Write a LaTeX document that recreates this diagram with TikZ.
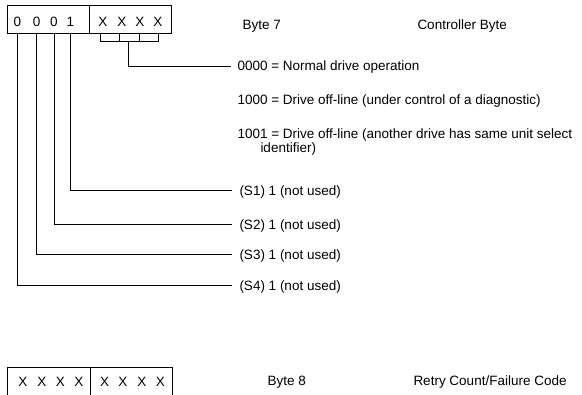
\documentclass[tikz,border=0pt]{standalone}
\usepackage{fontspec}
\setmainfont{Liberation Sans}
\begin{document}
\begin{tikzpicture}[x=1pt,y=-1pt, line width=1pt,
  lbl/.style={anchor=base west, inner sep=0pt, font=\fontsize{13.5}{16}\selectfont},
  dig/.style={anchor=base, inner sep=0pt, font=\fontsize{13.5}{16}\selectfont},
  cell/.style={draw, inner sep=0pt, minimum height=28pt}]
\useasboundingbox (0,0) rectangle (582,395);
% Byte 7 boxes
\node[cell, minimum width=81.5pt] (b7l) at (48.25,20) {};
\node[cell, minimum width=82pt] (b7r) at (130,20) {};
\node[dig] (d1) at (17.3,26.7) {0};
\node[dig] (d2) at (36.7,26.7) {0};
\node[dig] (d3) at (54,26.7) {0};
\node[dig] (d4) at (70.3,26.7) {1};
\node[dig] (x1) at (103,26.7) {X};
\node[dig] (x2) at (122,26.7) {X};
\node[dig] (x3) at (140,26.7) {X};
\node[dig] (x4) at (158,26.7) {X};
\node[lbl] (byte7) at (242,29.5) {Byte 7};
\node[lbl] (ctrl) at (417,29.5) {Controller Byte};
% bracket
\coordinate (k1) at (100,34);
\coordinate (k2) at (119,34);
\coordinate (k3) at (139,34);
\coordinate (k4) at (158,34);
\draw (k1) -- ++(0,7.7) -| (k4);
\draw (k2) -- ++(0,7.7);
\draw (k3) -- ++(0,7.7);
\coordinate (kb) at (128,41.7);
% labels
\coordinate (e0) at (231,66.3);
\node[lbl] (t0) at (237,71) {0000 = Normal drive operation};
\node[lbl] (t1) at (237,104.5) {1000 = Drive off-line (under control of a diagnostic)};
\node[lbl] (t2) at (237,138.5) {1001 = Drive off-line (another drive has same unit select};
\node[lbl] (t2b) at (260,153) {identifier)};
\coordinate (e1) at (232,190.7);
\coordinate (e2) at (232,224.7);
\coordinate (e3) at (232,254.7);
\coordinate (e4) at (232,285.7);
\node[lbl] (s1) at (239,195.5) {(S1) 1 (not used)};
\node[lbl] (s2) at (239,229.5) {(S2) 1 (not used)};
\node[lbl] (s3) at (239,259.5) {(S3) 1 (not used)};
\node[lbl] (s4) at (239,290.5) {(S4) 1 (not used)};
% connectors
\draw (kb) |- (e0);
\draw (d4 |- b7l.south) |- (e1);
\draw (d3 |- b7l.south) |- (e2);
\draw (d2 |- b7l.south) |- (e3);
\draw (d1 |- b7l.south) |- (e4);
% Byte 8
\node[cell, minimum width=83.4pt] (b8l) at (49,381.7) {};
\node[cell, minimum width=81.6pt] (b8r) at (131.5,381.7) {};
\node[dig] (y1) at (23,387) {X};
\node[dig] (y2) at (42,387) {X};
\node[dig] (y3) at (60.5,387) {X};
\node[dig] (y4) at (79,387) {X};
\node[dig] (y5) at (104.7,387) {X};
\node[dig] (y6) at (123,387) {X};
\node[dig] (y7) at (142,387) {X};
\node[dig] (y8) at (160.5,387) {X};
\node[lbl] (byte8) at (267,386) {Byte 8};
\node[lbl] (retry) at (413,386) {Retry Count/Failure Code};
\end{tikzpicture}
\end{document}
